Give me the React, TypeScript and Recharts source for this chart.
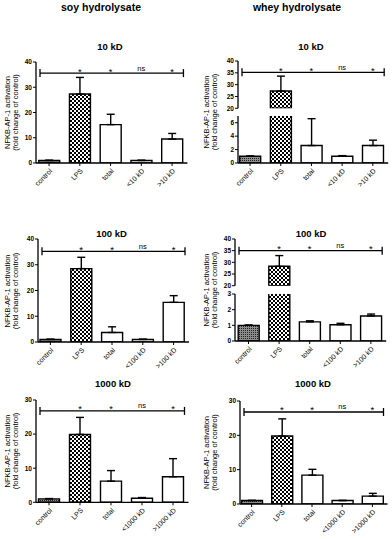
import React from "react";
import { BarChart, Bar, XAxis, YAxis, ErrorBar, ReferenceLine, ReferenceDot, Cell } from "recharts";

const groups10 = ["control", "LPS", "total", "<10 kD", ">10 kD"];
const groups100 = ["control", "LPS", "total", "<100 kD", ">100 kD"];
const groups1000 = ["control", "LPS", "total", "<1000 kD", ">1000 kD"];

// mean fold change and upper SD
const soy10 = [1.0, 27.3, 15.2, 1.0, 9.5];
const soy10Err = [0.1, 6.6, 4.1, 0.1, 2.2];
const soy100 = [1.0, 28.5, 3.7, 1.0, 15.4];
const soy100Err = [0.1, 4.4, 2.2, 0.1, 2.6];
const soy1000 = [1.0, 19.9, 6.2, 1.2, 7.5];
const soy1000Err = [0.1, 5.0, 3.1, 0.2, 5.3];
const whey10 = [1.0, 27.3, 2.6, 1.0, 2.6];
const whey10Err = [0.05, 6.3, 4.0, 0.1, 0.8];
const whey100 = [1.0, 28.3, 1.22, 1.04, 1.6];
const whey100Err = [0.02, 4.6, 0.07, 0.09, 0.12];
const whey1000 = [1.0, 19.8, 8.4, 1.0, 2.3];
const whey1000Err = [0.05, 5.0, 1.7, 0.05, 0.8];

const sigMarks = ["", "*", "*", "ns", "*"];

const ticks40 = [0, 10, 20, 30, 40];
const ticks30 = [0, 10, 20, 30];
const ticksUpper = [20, 25, 30, 35, 40];
const ticksLower6 = [0, 2, 4, 6];
const ticksLower3 = [0, 1, 2, 3];

const FONT = "'Liberation Sans', Arial, sans-serif";
const fills = ["url(#ctrlFill)", "url(#lpsFill)", "#fff", "#fff", "#fff"];

const YW = 24;
const MT = 8;
const MR = 6;
const XH = 40;
const MB = 6;

type SubProps = {
  groups: string[];
  means: number[];
  errs: number[];
  axisX: number;
  bandStart: number;
  band: number;
  top: number;
  bottom: number;
  domain: [number, number];
  ticks: number[];
  showX: boolean;
  sigY?: number;
};

const XTick = (props: any) => {
  const { x, y, payload } = props;
  return (
    <g transform={`translate(${x},${y})`}>
      <text x={0} y={0} dy="0.71em" textAnchor="end" transform="rotate(-45)" fontSize={7} fill="#000" fontFamily={FONT}>
        {payload.value}
      </text>
    </g>
  );
};

const SigLine = (props: any) => {
  const { x1, x2, y1 } = props;
  const a = Math.min(x1, x2) + 4;
  const b = Math.max(x1, x2) - 4;
  return (
    <g stroke="#000" strokeWidth={1.3}>
      <line x1={a} x2={b} y1={y1} y2={y1} />
      <line x1={a} x2={a} y1={y1 - 4} y2={y1 + 4} />
      <line x1={b} x2={b} y1={y1 - 4} y2={y1 + 4} />
    </g>
  );
};

function SubChart(p: SubProps) {
  const [lo, hi] = p.domain;
  const data = p.groups.map((g, i) => {
    const v = p.means[i];
    return {
      name: g,
      value: v < lo ? null : v,
      err: v < lo || v > hi ? null : [0, p.errs[i]],
    };
  });
  const plotW = p.bandStart + p.band * p.groups.length - p.axisX;
  const w = YW + plotW + MR;
  const mb = p.showX ? 0 : MB;
  const h = MT + (p.bottom - p.top) + (p.showX ? XH : 0) + mb;
  const sig = p.sigY;
  return (
    <div style={{ position: "absolute", left: p.axisX - YW, top: p.top - MT }}>
      <BarChart width={w} height={h} data={data} margin={{ top: MT, right: MR, bottom: mb, left: 0 }}>
        <XAxis
          dataKey="name"
          hide={!p.showX}
          height={XH}
          interval={0}
          padding={{ left: p.bandStart - p.axisX, right: 0 }}
          tickSize={3}
          tickMargin={2}
          tick={<XTick />}
          axisLine={{ stroke: "#000", strokeWidth: 1.3 }}
          tickLine={{ stroke: "#000", strokeWidth: 1 }}
        />
        <YAxis
          width={YW}
          type="number"
          domain={p.domain}
          ticks={p.ticks}
          interval={0}
          allowDataOverflow
          tickSize={3}
          tickMargin={1}
          tick={{ fontSize: 6.5, fill: "#000", fontWeight: "bold", fontFamily: FONT }}
          axisLine={{ stroke: "#000", strokeWidth: 1.3 }}
          tickLine={{ stroke: "#000", strokeWidth: 1 }}
        />
        <Bar dataKey="value" barSize={21} stroke="#000" strokeWidth={1.4} isAnimationActive={false}>
          {data.map((d, i) => (
            <Cell key={d.name} fill={fills[i]} />
          ))}
          <ErrorBar dataKey="err" width={4} stroke="#000" strokeWidth={1.4} />
        </Bar>
        {sig !== undefined && <ReferenceLine y={sig} shape={SigLine} />}
        {sig !== undefined &&
          p.groups.map((g, i) =>
            sigMarks[i] ? (
              <ReferenceDot
                key={g}
                x={g}
                y={sig}
                r={0}
                shape={(s: any) => (
                  <text
                    x={s.cx}
                    y={sigMarks[i] === "ns" ? s.cy - 2.5 : s.cy + 1.5}
                    textAnchor="middle"
                    fontSize={sigMarks[i] === "ns" ? 7.5 : 9.5}
                    fill="#000"
                    fontFamily={FONT}
                  >
                    {sigMarks[i]}
                  </text>
                )}
              />
            ) : null
          )}
      </BarChart>
    </div>
  );
}

function YLabel({ x, cy }: { x: number; cy: number }) {
  return (
    <text transform={`translate(${x},${cy}) rotate(-90)`} textAnchor="middle" fontSize={7.5} fill="#000" fontFamily={FONT}>
      <tspan x={0} y={0}>NFKB-AP-1 activation</tspan>
      <tspan x={0} y={8}>(fold change of control)</tspan>
    </text>
  );
}

function Title({ x, y, text, size }: { x: number; y: number; text: string; size: number }) {
  return (
    <text x={x} y={y} textAnchor="middle" fontSize={size} fontWeight="bold" fill="#000" fontFamily={FONT}>
      {text}
    </text>
  );
}

export default function App() {
  return (
    <div
      style={{
        position: "absolute",
        left: 0,
        top: 0,
        width: 392,
        height: 539,
        background: "#fff",
        overflow: "hidden",
        fontFamily: FONT,
      }}
    >
      <svg width={0} height={0} style={{ position: "absolute" }}>
        <defs>
          <pattern id="lpsFill" width={4} height={4} patternUnits="userSpaceOnUse">
            <rect width={4} height={4} fill="#fff" />
            <rect x={0} y={0} width={2} height={2} fill="#000" />
            <rect x={2} y={2} width={2} height={2} fill="#000" />
          </pattern>
          <pattern id="ctrlFill" width={2} height={2} patternUnits="userSpaceOnUse">
            <rect width={2} height={2} fill="#8c8c8c" />
            <rect x={0} y={0} width={1} height={1} fill="#222" />
          </pattern>
        </defs>
      </svg>

      {/* soy hydrolysate */}
      <SubChart groups={groups10} means={soy10} errs={soy10Err} axisX={36} bandStart={33.7} band={30.75}
        top={62} bottom={163} domain={[0, 40]} ticks={ticks40} showX sigY={35.6} />
      <SubChart groups={groups100} means={soy100} errs={soy100Err} axisX={38} bandStart={35} band={30.8}
        top={239.3} bottom={342.3} domain={[0, 40]} ticks={ticks40} showX sigY={35.2} />
      <SubChart groups={groups1000} means={soy1000} errs={soy1000Err} axisX={36} bandStart={33.5} band={31}
        top={400} bottom={502.3} domain={[0, 30]} ticks={ticks30} showX sigY={26.8} />

      {/* whey hydrolysate, broken axes */}
      <SubChart groups={groups10} means={whey10} errs={whey10Err} axisX={238} bandStart={234.7} band={30.7}
        top={61} bottom={108.3} domain={[20, 40]} ticks={ticksUpper} showX={false} sigY={35.2} />
      <SubChart groups={groups10} means={whey10} errs={whey10Err} axisX={238} bandStart={234.7} band={30.7}
        top={116} bottom={163} domain={[0, 7]} ticks={ticksLower6} showX />
      <SubChart groups={groups100} means={whey100} errs={whey100Err} axisX={235} bandStart={233.2} band={30.6}
        top={239.3} bottom={286} domain={[20, 40]} ticks={ticksUpper} showX={false} sigY={35} />
      <SubChart groups={groups100} means={whey100} errs={whey100Err} axisX={235} bandStart={233.2} band={30.6}
        top={294} bottom={341} domain={[0, 3]} ticks={ticksLower3} showX />
      <SubChart groups={groups1000} means={whey1000} errs={whey1000Err} axisX={239.5} bandStart={236} band={30.2}
        top={401} bottom={504} domain={[0, 30]} ticks={ticks30} showX sigY={26.8} />

      <svg width={392} height={539} style={{ position: "absolute", left: 0, top: 0, pointerEvents: "none" }}>
        <Title x={101} y={10.5} text="soy hydrolysate" size={10.5} />
        <Title x={297} y={10.5} text="whey hydrolysate" size={10.5} />
        <Title x={110} y={50} text="10 kD" size={9.5} />
        <Title x={311} y={50} text="10 kD" size={9.5} />
        <Title x={111.5} y={237} text="100 kD" size={9.5} />
        <Title x={311} y={237} text="100 kD" size={9.5} />
        <Title x={113} y={387} text="1000 kD" size={9.5} />
        <Title x={313} y={387} text="1000 kD" size={9.5} />
        <YLabel x={9.5} cy={112.5} />
        <YLabel x={208.5} cy={112} />
        <YLabel x={9.5} cy={291} />
        <YLabel x={208.5} cy={290} />
        <YLabel x={9.5} cy={451} />
        <YLabel x={208.5} cy={452.5} />
      </svg>
    </div>
  );
}
